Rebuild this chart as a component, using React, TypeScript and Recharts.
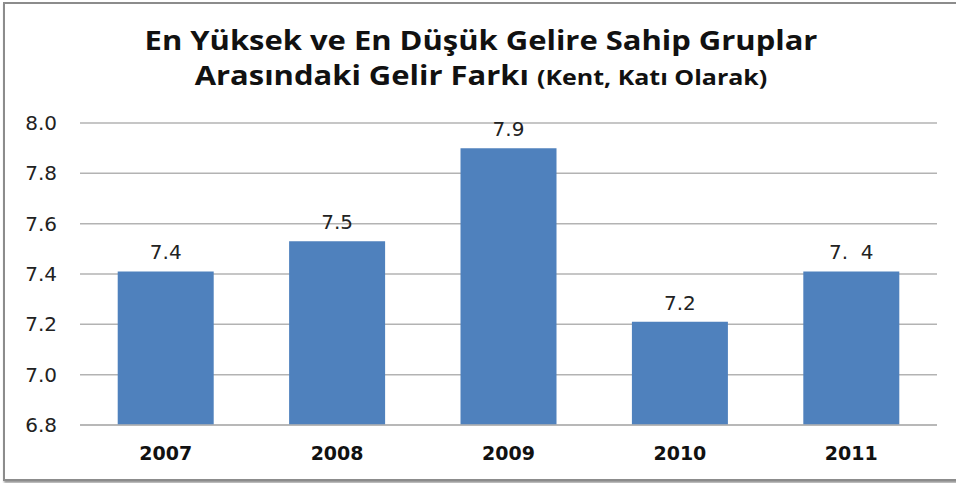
import { Bar, BarChart, CartesianGrid, LabelList, XAxis, YAxis } from "recharts";

const years = ["2007", "2008", "2009", "2010", "2011"];
const values = [7.41, 7.53, 7.9, 7.21, 7.41];
const valueLabels = ["7.4", "7.5", "7.9", "7.2", "7.\u00a0\u00a04"];
const yTicks = [6.8, 7.0, 7.2, 7.4, 7.6, 7.8, 8.0];

const data = years.map((year, i) => ({
  year,
  value: values[i],
  label: valueLabels[i],
}));

export default function App() {
  return (
    <div
      style={{
        position: "fixed",
        left: 0,
        top: 0,
        width: 956,
        height: 483,
        background: "#fff",
        overflow: "hidden",
      }}
    >
      <div
        style={{
          position: "absolute",
          left: 3,
          top: 2,
          width: 970,
          height: 475,
          border: "2px solid #8c8c8c",
          boxShadow: "1px 2px 2px #9a9a9a",
        }}
      />
      <div
        style={{
          position: "absolute",
          left: 0,
          top: 23,
          width: 962,
          textAlign: "center",
          fontFamily: "'Open Sans', sans-serif",
          fontWeight: 700,
          color: "#111",
          lineHeight: "35px",
          transform: "scaleX(1.19)",
          transformOrigin: "481px 0",
        }}
      >
        <div style={{ fontSize: 26 }}>En Yüksek ve En Düşük Gelire Sahip Gruplar</div>
        <div style={{ fontSize: 26 }}>
          Arasındaki Gelir Farkı <span style={{ fontSize: 21 }}>(Kent, Katı Olarak)</span>
        </div>
      </div>
      <div style={{ position: "absolute", left: 0, top: 0 }}>
        <BarChart
          width={956}
          height={483}
          data={data}
          margin={{ top: 123, right: 19, bottom: 28, left: 0 }}
          barCategoryGap="22%"
        >
          <CartesianGrid vertical={false} stroke="#b3b3b3" strokeWidth={1.5} />
          <XAxis
            dataKey="year"
            axisLine={{ stroke: "#b3b3b3", strokeWidth: 1.5 }}
            tickLine={false}
            tickMargin={16}
            tick={{ fill: "#111", fontSize: 19, fontWeight: 700, fontFamily: "'DejaVu Sans', sans-serif" }}
          />
          <YAxis
            width={80}
            domain={[6.8, 8.0]}
            ticks={yTicks}
            interval={0}
            axisLine={false}
            tickLine={false}
            tickMargin={17}
            tickFormatter={(v: number) => v.toFixed(1)}
            tick={{ fill: "#222", fontSize: 20, fontFamily: "'DejaVu Sans', sans-serif" }}
          />
          <Bar dataKey="value" fill="#4f81bd" isAnimationActive={false}>
            <LabelList
              dataKey="label"
              position="top"
              offset={12}
              style={{ fill: "#222", fontSize: 20, fontFamily: "'DejaVu Sans', sans-serif" }}
            />
          </Bar>
        </BarChart>
      </div>
    </div>
  );
}
